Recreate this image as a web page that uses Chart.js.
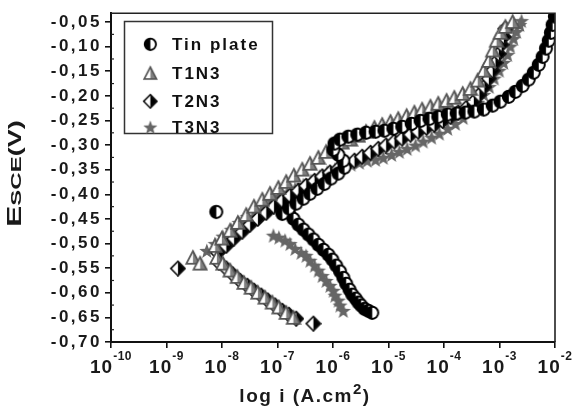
<!DOCTYPE html>
<html>
<head>
<meta charset="utf-8">
<script src="https://cdn.jsdelivr.net/npm/chart.js@4.4.0/dist/chart.umd.min.js"></script>
<style>
  html, body { margin: 0; padding: 0; background: #fff; }
</style>
</head>
<body>
<canvas id="chart" width="572" height="407"></canvas>
<script>
// log10 of current density (A.cm-2) vs potential E (V vs SCE)
const tinPlate = [
  [-8.11, -0.435],
  [-6.80, -0.437], [-6.72, -0.449], [-6.63, -0.461], [-6.54, -0.471], [-6.45, -0.481], [-6.36, -0.491],
  [-6.27, -0.502], [-6.18, -0.512], [-6.09, -0.522], [-6.02, -0.532], [-5.95, -0.544], [-5.88, -0.556],
  [-5.82, -0.569], [-5.77, -0.581], [-5.71, -0.593], [-5.66, -0.603], [-5.60, -0.611], [-5.55, -0.619],
  [-5.50, -0.625], [-5.44, -0.632], [-5.37, -0.636], [-5.30, -0.640],
  [-6.92, -0.439], [-6.80, -0.428], [-6.67, -0.418], [-6.54, -0.408], [-6.42, -0.398], [-6.29, -0.388],
  [-6.16, -0.378], [-6.04, -0.367], [-5.91, -0.357], [-5.80, -0.345], [-5.82, -0.331], [-5.91, -0.319],
  [-6.00, -0.309], [-5.98, -0.296], [-5.88, -0.288], [-5.73, -0.282], [-5.57, -0.278], [-5.41, -0.274],
  [-5.24, -0.272], [-5.08, -0.270], [-4.92, -0.266], [-4.76, -0.262], [-4.59, -0.256], [-4.43, -0.250],
  [-4.27, -0.246], [-4.11, -0.242], [-3.94, -0.237], [-3.78, -0.235], [-3.62, -0.233], [-3.46, -0.231],
  [-3.29, -0.227], [-3.13, -0.219], [-2.99, -0.211], [-2.84, -0.201], [-2.72, -0.191], [-2.59, -0.179],
  [-2.48, -0.166], [-2.39, -0.152], [-2.30, -0.136], [-2.23, -0.120], [-2.17, -0.103], [-2.12, -0.087],
  [-2.08, -0.071], [-2.05, -0.055], [-2.01, -0.038]
];

const t1n3 = [
  [-8.53, -0.528], [-8.40, -0.540],
  [-8.10, -0.528], [-7.99, -0.540], [-7.86, -0.554], [-7.73, -0.567], [-7.61, -0.579], [-7.48, -0.589],
  [-7.36, -0.599], [-7.23, -0.609], [-7.10, -0.619], [-6.98, -0.629], [-6.85, -0.640], [-6.72, -0.650],
  [-8.13, -0.504], [-8.01, -0.489], [-7.86, -0.473], [-7.72, -0.457], [-7.57, -0.441], [-7.43, -0.424],
  [-7.28, -0.410], [-7.14, -0.398], [-6.99, -0.386], [-6.85, -0.374], [-6.71, -0.361], [-6.56, -0.349],
  [-6.42, -0.337], [-6.27, -0.325], [-6.13, -0.313], [-5.98, -0.302], [-5.84, -0.294], [-5.69, -0.288],
  [-5.55, -0.280], [-5.41, -0.272], [-5.26, -0.264], [-5.12, -0.258], [-4.97, -0.252], [-4.83, -0.246],
  [-4.68, -0.240], [-4.54, -0.233], [-4.40, -0.227], [-4.25, -0.221], [-4.11, -0.215], [-3.96, -0.209],
  [-3.82, -0.203], [-3.67, -0.195], [-3.53, -0.185], [-3.40, -0.168], [-3.29, -0.148], [-3.20, -0.128],
  [-3.13, -0.107], [-3.06, -0.087], [-2.99, -0.071], [-2.90, -0.059], [-2.77, -0.049]
];

const t2n3 = [
  [-8.80, -0.550],
  [-8.06, -0.538], [-7.93, -0.550], [-7.81, -0.562], [-7.68, -0.575], [-7.55, -0.585], [-7.43, -0.595],
  [-7.30, -0.605], [-7.18, -0.615], [-7.05, -0.625], [-6.92, -0.636], [-6.80, -0.644], [-6.67, -0.652],
  [-6.36, -0.662],
  [-8.08, -0.518], [-7.93, -0.504], [-7.79, -0.489], [-7.64, -0.475], [-7.50, -0.461], [-7.36, -0.449],
  [-7.21, -0.437], [-7.07, -0.424], [-6.92, -0.412], [-6.78, -0.402], [-6.63, -0.392], [-6.49, -0.382],
  [-6.34, -0.372], [-6.20, -0.363], [-6.06, -0.355], [-5.91, -0.347], [-5.77, -0.339], [-5.62, -0.331],
  [-5.48, -0.323], [-5.33, -0.315], [-5.19, -0.307], [-5.05, -0.300], [-4.90, -0.292], [-4.76, -0.286],
  [-4.61, -0.278], [-4.47, -0.272], [-4.32, -0.264], [-4.18, -0.258], [-4.03, -0.250], [-3.89, -0.242],
  [-3.75, -0.233], [-3.60, -0.223], [-3.47, -0.211], [-3.37, -0.197], [-3.28, -0.181], [-3.20, -0.164],
  [-3.13, -0.148], [-3.08, -0.132], [-3.02, -0.114], [-2.97, -0.095], [-2.93, -0.079], [-2.90, -0.063]
];

const t3n3 = [
  [-7.08, -0.483], [-6.98, -0.487], [-6.87, -0.493], [-6.78, -0.500], [-6.69, -0.510], [-6.58, -0.518],
  [-6.49, -0.524], [-6.42, -0.534], [-6.34, -0.544], [-6.27, -0.554], [-6.20, -0.565], [-6.13, -0.575],
  [-6.06, -0.585], [-6.00, -0.595], [-5.97, -0.605], [-5.91, -0.615], [-5.88, -0.625], [-5.82, -0.636],
  [-8.28, -0.514], [-8.13, -0.500], [-7.99, -0.485], [-7.84, -0.471], [-7.70, -0.457], [-7.55, -0.445],
  [-7.41, -0.432], [-7.27, -0.422], [-7.12, -0.412], [-6.98, -0.404], [-6.83, -0.396], [-6.69, -0.388],
  [-6.54, -0.380], [-6.40, -0.372], [-6.25, -0.363], [-6.11, -0.355], [-5.97, -0.349], [-5.82, -0.343],
  [-5.68, -0.339], [-5.53, -0.335], [-5.39, -0.331], [-5.24, -0.329], [-5.10, -0.325], [-4.95, -0.319],
  [-4.81, -0.313], [-4.67, -0.307], [-4.52, -0.300], [-4.38, -0.292], [-4.23, -0.284], [-4.09, -0.276],
  [-3.94, -0.266], [-3.80, -0.256], [-3.66, -0.244], [-3.53, -0.229], [-3.40, -0.213], [-3.29, -0.197],
  [-3.19, -0.181], [-3.10, -0.164], [-3.01, -0.148], [-2.93, -0.132], [-2.86, -0.116], [-2.81, -0.099],
  [-2.75, -0.083], [-2.70, -0.069], [-2.64, -0.055], [-2.61, -0.047]
];

const seriesNames = ['Tin plate', 'T1N3', 'T2N3', 'T3N3'];
const xTicks = [-10, -9, -8, -7, -6, -5, -4, -3, -2];
const yTicks = [-0.70, -0.65, -0.60, -0.55, -0.50, -0.45, -0.40, -0.35, -0.30, -0.25, -0.20, -0.15, -0.10, -0.05];

const FONT = '"Liberation Sans", Arial, sans-serif';

// marker images
function makeMarker(kind) {
  const c = document.createElement('canvas');
  c.width = 17; c.height = 17;
  const g = c.getContext('2d');
  g.translate(0.6, 0.6);
  g.scale(1.1, 1.1);
  const m = 7.5;
  if (kind === 'circle') {
    g.fillStyle = '#fff';
    g.beginPath(); g.arc(m, m, 5.5, 0, Math.PI * 2); g.fill();
    g.fillStyle = '#000';
    g.beginPath(); g.arc(m, m, 5.5, Math.PI / 2, Math.PI * 1.5); g.fill();
    g.strokeStyle = '#000'; g.lineWidth = 1.8;
    g.beginPath(); g.arc(m, m, 5.5, 0, Math.PI * 2); g.stroke();
  } else if (kind === 'triangle') {
    g.fillStyle = '#fff';
    g.beginPath(); g.moveTo(m, 1.5); g.lineTo(13.5, 13); g.lineTo(1.5, 13); g.closePath(); g.fill();
    g.fillStyle = '#808080';
    g.beginPath(); g.moveTo(m, 1.5); g.lineTo(13.5, 13); g.lineTo(m, 13); g.closePath(); g.fill();
    g.strokeStyle = '#555'; g.lineWidth = 1.6;
    g.beginPath(); g.moveTo(m, 1.5); g.lineTo(13.5, 13); g.lineTo(1.5, 13); g.closePath(); g.stroke();
  } else if (kind === 'diamond') {
    g.fillStyle = '#fff';
    g.beginPath(); g.moveTo(m, 1); g.lineTo(14, m); g.lineTo(m, 14); g.lineTo(1, m); g.closePath(); g.fill();
    g.fillStyle = '#000';
    g.beginPath(); g.moveTo(m, 1); g.lineTo(14, m); g.lineTo(m, 14); g.closePath(); g.fill();
    g.strokeStyle = '#111'; g.lineWidth = 1.5;
    g.beginPath(); g.moveTo(m, 1); g.lineTo(14, m); g.lineTo(m, 14); g.lineTo(1, m); g.closePath(); g.stroke();
  } else {
    g.fillStyle = '#666';
    g.beginPath();
    for (let k = 0; k < 10; k++) {
      const r = k % 2 === 0 ? 7.2 : 3;
      const a = -Math.PI / 2 + k * Math.PI / 5;
      const px = m + r * Math.cos(a), py = m + 0.6 + r * Math.sin(a);
      if (k === 0) g.moveTo(px, py); else g.lineTo(px, py);
    }
    g.closePath(); g.fill();
  }
  return c;
}

const markers = [makeMarker('circle'), makeMarker('triangle'), makeMarker('diamond'), makeMarker('star')];
const seriesData = [tinPlate, t1n3, t2n3, t3n3];

const toPoints = arr => arr.map(p => ({ x: p[0], y: p[1] }));

const textPlugin = {
  id: 'textPlugin',
  beforeDraw(chart) {
    chart.ctx.letterSpacing = '2.5px';
  },
  afterDraw(chart) {
    const ctx = chart.ctx;
    const area = chart.chartArea;
    const xs = chart.scales.x;
    const ys = chart.scales.y;

    // frame top and right
    ctx.save();
    ctx.letterSpacing = '0px';
    ctx.strokeStyle = '#222';
    ctx.lineWidth = 1.6;
    ctx.beginPath();
    ctx.moveTo(area.left, area.top);
    ctx.lineTo(area.right, area.top);
    ctx.lineTo(area.right, area.bottom);
    ctx.stroke();

    // minor y ticks
    ctx.lineWidth = 1.2;
    for (let i = 0; i < yTicks.length - 1; i++) {
      const py = ys.getPixelForValue((yTicks[i] + yTicks[i + 1]) / 2);
      ctx.beginPath();
      ctx.moveTo(area.left, py);
      ctx.lineTo(area.left + 3, py);
      ctx.stroke();
    }
    ctx.restore();

    // x tick labels: 10 with exponent
    ctx.save();
    ctx.fillStyle = '#1a1a1a';
    ctx.textBaseline = 'alphabetic';
    ctx.textAlign = 'left';
    xTicks.forEach(v => {
      const px = xs.getPixelForValue(v);
      ctx.font = 'bold 19px ' + FONT;
      ctx.letterSpacing = '1px';
      const wb = ctx.measureText('10').width;
      ctx.font = 'bold 12px ' + FONT;
      ctx.letterSpacing = '0.5px';
      const we = ctx.measureText(String(v)).width;
      const start = px - (wb + we) / 2;
      ctx.font = 'bold 19px ' + FONT;
      ctx.letterSpacing = '1px';
      ctx.fillText('10', start, 373);
      ctx.font = 'bold 12px ' + FONT;
      ctx.letterSpacing = '0.5px';
      ctx.fillText(String(v), start + wb, 360);
    });
    ctx.restore();

    // x title
    ctx.save();
    ctx.fillStyle = '#1a1a1a';
    ctx.textBaseline = 'alphabetic';
    ctx.letterSpacing = '1.5px';
    const partA = 'log i (A.cm';
    ctx.font = 'bold 19px ' + FONT;
    const wa = ctx.measureText(partA).width;
    const wc = ctx.measureText(')').width;
    ctx.font = 'bold 15px ' + FONT;
    const w2 = ctx.measureText('2').width;
    let tx = 305 - (wa + w2 + wc) / 2;
    ctx.font = 'bold 19px ' + FONT;
    ctx.fillText(partA, tx, 402);
    ctx.font = 'bold 15px ' + FONT;
    ctx.fillText('2', tx + wa, 394);
    ctx.font = 'bold 19px ' + FONT;
    ctx.fillText(')', tx + wa + w2, 402);
    ctx.restore();

    // y title, rotated
    ctx.save();
    ctx.fillStyle = '#1a1a1a';
    ctx.letterSpacing = '0px';
    ctx.translate(21, 227);
    ctx.rotate(-Math.PI / 2);
    let off = 0;
    [['E', 20, 1.6], ['SCE', 15, 1.6], ['(V)', 18, 1.5]].forEach(([t, size, sx]) => {
      ctx.font = 'bold ' + size + 'px ' + FONT;
      ctx.save();
      ctx.scale(sx, 1);
      ctx.fillText(t, off / sx, 0);
      ctx.restore();
      off += ctx.measureText(t).width * sx;
    });
    ctx.restore();

    // legend box
    ctx.save();
    ctx.letterSpacing = '2px';
    ctx.strokeStyle = '#333';
    ctx.lineWidth = 1.5;
    ctx.strokeRect(124.5, 21.5, 148, 112);
    const rows = [44, 73, 101, 127];
    ctx.fillStyle = '#111';
    ctx.font = 'bold 17px ' + FONT;
    ctx.textBaseline = 'middle';
    seriesNames.forEach((name, i) => {
      const img = markers[i];
      ctx.drawImage(img, 150 - 8, rows[i] - 8, 16, 16);
      ctx.fillText(name, 172, rows[i] + 1);
    });
    ctx.restore();

    ctx.letterSpacing = '0px';
  }
};

new Chart(document.getElementById('chart'), {
  type: 'scatter',
  data: {
    datasets: seriesData.map((d, i) => ({
      label: seriesNames[i],
      data: toPoints(d),
      pointStyle: markers[i],
      pointRadius: 7,
      showLine: false
    }))
  },
  options: {
    responsive: false,
    animation: false,
    devicePixelRatio: 1,
    layout: { padding: { top: 13, right: 17, left: 0, bottom: 0 } },
    plugins: {
      legend: { display: false },
      tooltip: { enabled: false }
    },
    scales: {
      x: {
        type: 'linear',
        min: -10,
        max: -2,
        afterBuildTicks: s => { s.ticks = xTicks.map(v => ({ value: v })); },
        afterFit: s => { s.height = 65; },
        ticks: { display: false },
        grid: { drawOnChartArea: false, drawTicks: true, tickLength: 6, color: '#111', lineWidth: 1.6 },
        border: { display: true, color: '#111', width: 2 }
      },
      y: {
        type: 'linear',
        min: -0.70,
        max: -0.032,
        afterBuildTicks: s => { s.ticks = yTicks.map(v => ({ value: v })); },
        afterFit: s => { s.width = 111; },
        ticks: {
          padding: 3,
          color: '#1a1a1a',
          font: { family: FONT, size: 17, weight: 'bold' },
          callback: v => v.toFixed(2).replace('.', ',')
        },
        grid: { drawOnChartArea: false, drawTicks: true, tickLength: 6, color: '#111', lineWidth: 1.6 },
        border: { display: true, color: '#111', width: 2 }
      }
    }
  },
  plugins: [textPlugin]
});
</script>
</body>
</html>
